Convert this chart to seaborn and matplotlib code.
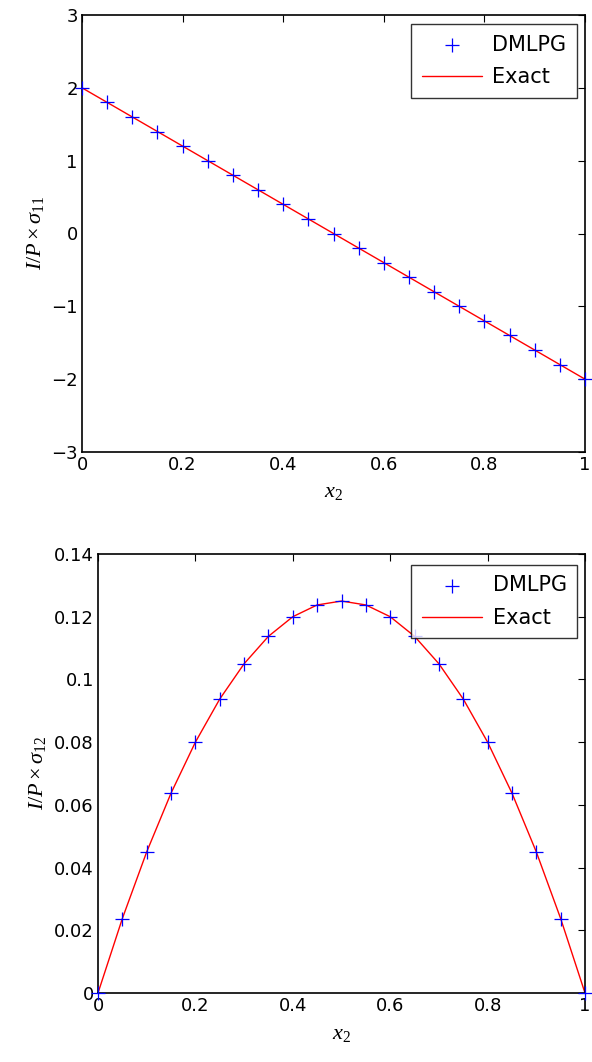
import matplotlib
matplotlib.use("Agg")
import matplotlib.pyplot as plt
import seaborn as sns
import pandas as pd

x2 = [0.0, 0.05, 0.1, 0.15, 0.2, 0.25, 0.3, 0.35, 0.4, 0.45, 0.5,
      0.55, 0.6, 0.65, 0.7, 0.75, 0.8, 0.85, 0.9, 0.95, 1.0]
s11_dmlpg = [2.0, 1.8, 1.6, 1.4, 1.2, 1.0, 0.8, 0.6, 0.4, 0.2, 0.0,
             -0.2, -0.4, -0.6, -0.8, -1.0, -1.2, -1.4, -1.6, -1.8, -2.0]
s11_exact = [2.0, 1.8, 1.6, 1.4, 1.2, 1.0, 0.8, 0.6, 0.4, 0.2, 0.0,
             -0.2, -0.4, -0.6, -0.8, -1.0, -1.2, -1.4, -1.6, -1.8, -2.0]
s12_dmlpg = [0.0, 0.02375, 0.045, 0.06375, 0.08, 0.09375, 0.105, 0.11375, 0.12, 0.12375, 0.125,
             0.12375, 0.12, 0.11375, 0.105, 0.09375, 0.08, 0.06375, 0.045, 0.02375, 0.0]
s12_exact = [0.0, 0.02375, 0.045, 0.06375, 0.08, 0.09375, 0.105, 0.11375, 0.12, 0.12375, 0.125,
             0.12375, 0.12, 0.11375, 0.105, 0.09375, 0.08, 0.06375, 0.045, 0.02375, 0.0]

sns.set_theme(style="white")
plt.rcParams['font.family'] = ['DejaVu Sans']
plt.rcParams['mathtext.fontset'] = 'custom'
plt.rcParams['mathtext.it'] = 'Liberation Serif:italic'
plt.rcParams['mathtext.rm'] = 'Liberation Serif'

W, H = 592, 1062
fig = plt.figure(figsize=(W / 100, H / 100), dpi=100)
ax1 = fig.add_axes([82 / W, 1 - 452 / H, (585 - 82) / W, (452 - 15) / H])
ax2 = fig.add_axes([98 / W, 1 - 993 / H, (585 - 98) / W, (993 - 554) / H])

df1 = pd.DataFrame({'x': x2, 'd': s11_dmlpg, 'e': s11_exact})
df2 = pd.DataFrame({'x': x2, 'd': s12_dmlpg, 'e': s12_exact})

def draw(ax, df, ylim, yticks, yticklabels, ylabel, anchor):
    sns.scatterplot(data=df, x='x', y='d', ax=ax, marker='+', s=110, color='blue',
                    linewidth=0.9, label='DMLPG', zorder=3, clip_on=False)
    sns.lineplot(data=df, x='x', y='e', ax=ax, color='red', linewidth=1.0,
                 label='Exact', zorder=2)
    ax.set_xlim(0, 1)
    ax.set_ylim(*ylim)
    ax.set_xticks([0, 0.2, 0.4, 0.6, 0.8, 1.0])
    ax.set_xticklabels(['0', '0.2', '0.4', '0.6', '0.8', '1'])
    ax.set_yticks(yticks)
    ax.set_yticklabels(yticklabels)
    ax.tick_params(direction='in', length=5, width=0.8, top=True, right=True,
                   labelsize=13, colors='black', pad=3)
    for sp in ax.spines.values():
        sp.set_color('black')
        sp.set_linewidth(1.2)
    ax.set_xlabel(r'$x_{\mathit{2}}$', fontsize=16, labelpad=6, color='black')
    ax.set_ylabel(ylabel, fontsize=16, labelpad=4, color='black')
    leg = ax.legend(loc='upper right', bbox_to_anchor=anchor, borderaxespad=0,
                    fontsize=15, frameon=True, fancybox=False, edgecolor='black',
                    handlelength=2.9, borderpad=0.5, labelspacing=0.6,
                    handletextpad=0.5, labelcolor='black')
    leg.get_frame().set_linewidth(1.0)

draw(ax1, df1, (-3, 3), [-3, -2, -1, 0, 1, 2, 3],
     ['\u22123', '\u22122', '\u22121', '0', '1', '2', '3'],
     r'$I/P\times\sigma_{\mathit{11}}$', (0.984, 0.979))
draw(ax2, df2, (0, 0.14), [0, 0.02, 0.04, 0.06, 0.08, 0.1, 0.12, 0.14],
     ['0', '0.02', '0.04', '0.06', '0.08', '0.1', '0.12', '0.14'],
     r'$I/P\times\sigma_{\mathit{12}}$', (0.984, 0.975))

fig.savefig('out.png', dpi=100)
